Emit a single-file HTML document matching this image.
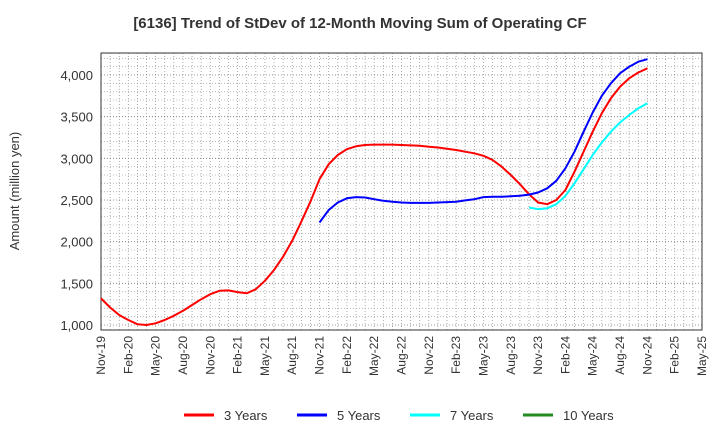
<!DOCTYPE html>
<html><head><meta charset="utf-8"><style>
body{margin:0;background:#fff;}
svg text{font-family:"Liberation Sans",sans-serif;fill:#333;}
</style></head><body>
<svg id="chart" width="720" height="440" xmlns="http://www.w3.org/2000/svg">
<text x="360" y="28" text-anchor="middle" font-size="15" font-weight="bold">[6136]  Trend of StDev of 12-Month Moving Sum of Operating CF</text>
<text transform="translate(19,191) rotate(-90)" text-anchor="middle" font-size="13">Amount (million yen)</text>
<g id="grid"></g><g id="axes"></g><g id="series"></g>
<g>
<line x1="184" y1="415" x2="214" y2="415" stroke="#ff0000" stroke-width="3"/>
<text x="224" y="420" font-size="13">3 Years</text>
<line x1="297" y1="415" x2="327" y2="415" stroke="#0000ff" stroke-width="3"/>
<text x="337" y="420" font-size="13">5 Years</text>
<line x1="410" y1="415" x2="440" y2="415" stroke="#00ffff" stroke-width="3"/>
<text x="450" y="420" font-size="13">7 Years</text>
<line x1="523" y1="415" x2="553" y2="415" stroke="#228b22" stroke-width="3"/>
<text x="563" y="420" font-size="13">10 Years</text>
</g>
</svg>
<script>
const xLabels=["Nov-19","Feb-20","May-20","Aug-20","Nov-20","Feb-21","May-21","Aug-21","Nov-21","Feb-22","May-22","Aug-22","Nov-22","Feb-23","May-23","Aug-23","Nov-23","Feb-24","May-24","Aug-24","Nov-24","Feb-25","May-25"];
const yTicks=[1000,1500,2000,2500,3000,3500,4000];
const s3Start=0;
const s3=[1320,1210,1120,1060,1010,1000,1020,1060,1110,1170,1240,1310,1370,1410,1415,1395,1380,1430,1530,1660,1820,2010,2240,2480,2750,2930,3040,3110,3145,3160,3165,3165,3165,3160,3155,3150,3140,3130,3115,3100,3080,3060,3030,2980,2900,2800,2690,2570,2470,2450,2500,2620,2840,3080,3320,3540,3720,3860,3960,4030,4080];
const s5Start=24;
const s5=[2230,2380,2470,2520,2535,2530,2510,2490,2480,2470,2465,2465,2465,2470,2475,2480,2495,2510,2535,2540,2540,2545,2550,2565,2590,2640,2730,2880,3080,3320,3550,3750,3900,4020,4100,4160,4190];
const s7Start=47;
const s7=[2410,2390,2400,2450,2550,2700,2870,3040,3190,3320,3430,3520,3600,3660];
const L=101,R=702,T=53,B=330,NM=66;
const X=i=>L+(R-L)*i/NM;
const Y=v=>325-(v-1000)*250/3000;
const ns="http://www.w3.org/2000/svg";
function mk(tag,attrs,parent){const e=document.createElementNS(ns,tag);for(const k in attrs)e.setAttribute(k,attrs[k]);parent.appendChild(e);return e;}
const grid=document.getElementById('grid'),axes=document.getElementById('axes'),ser=document.getElementById('series');
for(let i=1;i<NM;i++){const l=mk('line',{x1:X(i),x2:X(i),y1:T,y2:B,stroke:'#999','stroke-width':0.8,'stroke-dasharray':'1,2'},grid);

}
for(let v=1000;v<=4200;v+=100){const l=mk('line',{x1:L,x2:R,y1:Y(v),y2:Y(v),stroke:v%500===0?'#777':'#aaa','stroke-width':0.8,'stroke-dasharray':'1,2'},grid);

}
const fr=mk('rect',{x:L,y:T,width:R-L,height:B-T,fill:'none',stroke:'#333','stroke-width':1},axes);


yTicks.forEach(v=>{const t=mk('text',{x:L-8,y:Y(v)+5,'text-anchor':'end','font-size':13},axes);t.textContent=v.toLocaleString('en-US');

});
xLabels.forEach((s,i)=>{const x=X(i*3);const t=mk('text',{transform:`translate(${x+4},${B+6}) rotate(-90)`,'text-anchor':'end','font-size':12},axes);t.textContent=s;

});
function line(data,start,color,name){const p=data.map((v,i)=>(i?'L':'M')+X(start+i).toFixed(1)+','+Y(v).toFixed(1)).join('');
const e=mk('path',{d:p,fill:'none',stroke:color,'stroke-width':2,'stroke-linejoin':'round'},ser);

}
line(s3,s3Start,'#ff0000','series-3-years');
line(s5,s5Start,'#0000ff','series-5-years');
line(s7,s7Start,'#00ffff','series-7-years');
</script>
</body></html>
